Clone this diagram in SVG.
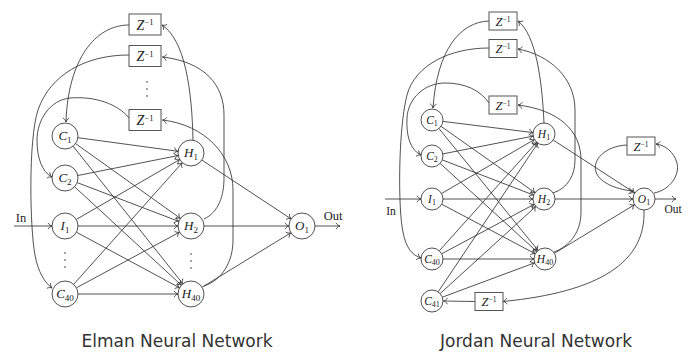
<svg xmlns="http://www.w3.org/2000/svg" width="691" height="353" viewBox="0 0 691 353">
<style>
.ln{fill:none;stroke:#333;stroke-width:0.85}
.ar{marker-end:url(#a)}
.nd{fill:#fff;stroke:#333;stroke-width:0.85}
.bx{fill:#fff;stroke:#555;stroke-width:1}
.lb{font-family:"Liberation Serif",serif;fill:#222;text-anchor:middle}
.e{font-size:13px}
.j{font-size:11.5px}
.it{font-style:italic}
.ttl{font-family:"DejaVu Sans",sans-serif;font-size:17px;fill:#333;text-anchor:middle}
.dot{fill:#333}
</style>
<defs>
<marker id="a" viewBox="-6 -5 7 10" markerWidth="7" markerHeight="10" refX="0" refY="0" orient="auto" markerUnits="userSpaceOnUse">
<path d="M-4,-3.2 C-3,-1.2 -1.2,-0.3 0,0 C-1.2,0.3 -3,1.2 -4,3.2" fill="none" stroke="#333" stroke-width="0.8"/>
</marker>
</defs>
<rect width="691" height="353" fill="#fff"/>

<g id="connectors">
<!-- Elman -->
<path class="ln ar" d="M14,226 L52,226"/>
<path class="ln ar" d="M77.9,137.7 L178.1,151.3"/>
<path class="ln ar" d="M75.6,143.6 L180.4,218.4"/>
<path class="ln ar" d="M73.1,146.2 L182.9,283.8"/>
<path class="ln ar" d="M77.8,175.5 L178.2,155.5"/>
<path class="ln ar" d="M77.2,182.6 L178.8,221.4"/>
<path class="ln ar" d="M74.6,186.8 L181.4,285.2"/>
<path class="ln ar" d="M76.2,219.5 L179.8,159.5"/>
<path class="ln ar" d="M78,226 L178,226"/>
<path class="ln ar" d="M76.4,232.2 L179.6,287.8"/>
<path class="ln ar" d="M73.7,284.3 L182.3,162.7"/>
<path class="ln ar" d="M76.4,287.8 L179.6,232.2"/>
<path class="ln ar" d="M78,294 L178,294"/>
<path class="ln ar" d="M201.9,160.1 L291.1,218.9"/>
<path class="ln ar" d="M204,226 L289,226"/>
<path class="ln ar" d="M202.1,287.2 L290.9,232.8"/>
<path class="ln ar" d="M315,226 L340,226"/>
<path class="ln ar" d="M193,140 C192,90 185,40 162,25"/>
<path class="ln ar" d="M129,25 C95,25 68,60 66,122"/>
<path class="ln ar" d="M204,219 C219,212 224,195 224,178 L224,115 C224,85 205,62 162.5,57"/>
<path class="ln ar" d="M204,286 C222,280 233,262 233,240 L233,190 C233,155 205,125 162.5,120"/>
<path class="ln ar" d="M129,55 C85,55 50,75 38,110 C28,140 30,230 35,255 C38,272 45,283 52,288"/>
<path class="ln ar" d="M129,118 C118,104 95,96 70,98 C50,100 37,120 37,140 C37,158 42,172 52,177"/>
<!-- Jordan -->
<path class="ln ar" d="M385,199 L421,199"/>
<path class="ln ar" d="M442.9,121.4 L533.1,132.6"/>
<path class="ln ar" d="M441,126.3 L535,192.7"/>
<path class="ln ar" d="M438.9,128.5 L538.1,250.5"/>
<path class="ln ar" d="M442.8,153.9 L533.2,136.1"/>
<path class="ln ar" d="M442.3,159.9 L533.7,195.1"/>
<path class="ln ar" d="M440.1,163.4 L536.9,251.6"/>
<path class="ln ar" d="M441.5,193.5 L534.5,139.5"/>
<path class="ln ar" d="M443,199 L533,199"/>
<path class="ln ar" d="M441.7,204.2 L535.3,253.8"/>
<path class="ln ar" d="M439.3,250.8 L536.7,142.2"/>
<path class="ln ar" d="M441.7,253.8 L534.3,204.2"/>
<path class="ln ar" d="M443,259 L534,259"/>
<path class="ln ar" d="M438.1,291.9 L537.9,143.1"/>
<path class="ln ar" d="M440.1,293.6 L535.9,206.4"/>
<path class="ln ar" d="M442.3,297.2 L534.7,262.8"/>
<path class="ln ar" d="M553.2,140 L634.8,193"/>
<path class="ln ar" d="M555,199 L633,199"/>
<path class="ln ar" d="M554.4,253.3 L634.6,204.7"/>
<path class="ln ar" d="M655,199 L676,199"/>
<path class="ln ar" d="M544,123 C542,80 536,35 518,21"/>
<path class="ln ar" d="M489,21 C460,22 437,50 433,108"/>
<path class="ln ar" d="M553,193 C568,188 575,175 575,160 L575,110 C575,78 550,55 518,49"/>
<path class="ln ar" d="M554,252 C570,246 581,232 581,212 L581,160 C581,130 558,110 518,105"/>
<path class="ln ar" d="M489,48 C450,48 415,65 407,95 C398,130 398,210 403,232 C406,248 412,255 421,258"/>
<path class="ln ar" d="M489,103 C480,90 465,83 445,83 C425,83 408,98 407,118 C406,135 410,150 421,155"/>
<path class="ln ar" d="M627,145 C605,146 592,160 596,172 C600,184 620,190 633,191"/>
<path class="ln ar" d="M654,193 C670,190 680,175 677,163 C674,152 665,145 656,144"/>
<path class="ln ar" d="M644,210 C646,262 600,292 503,301.5"/>
<path class="ln ar" d="M475,301.5 L443.5,301"/>
</g>

<g id="elman">
<g id="e-z1"><rect class="bx" x="129" y="14" width="32" height="21"/><text class="lb" font-size="14" x="145" y="29.5"><tspan class="it">Z</tspan><tspan dy="-4.5" font-size="8.5">−1</tspan></text></g>
<g id="e-z2"><rect class="bx" x="129" y="45.5" width="32" height="21"/><text class="lb" font-size="14" x="145" y="61"><tspan class="it">Z</tspan><tspan dy="-4.5" font-size="8.5">−1</tspan></text></g>
<g id="e-zdots"><circle class="dot" cx="147" cy="82" r="0.8"/><circle class="dot" cx="147" cy="89" r="0.8"/><circle class="dot" cx="147" cy="96" r="0.8"/></g>
<g id="e-z3"><rect class="bx" x="129" y="109.5" width="32" height="21"/><text class="lb" font-size="14" x="145" y="125"><tspan class="it">Z</tspan><tspan dy="-4.5" font-size="8.5">−1</tspan></text></g>
<g id="e-c1"><circle class="nd" cx="65" cy="136" r="13"/><text class="lb e" x="65" y="140"><tspan class="it">C</tspan><tspan dy="2.5" font-size="9">1</tspan></text></g>
<g id="e-c2"><circle class="nd" cx="65" cy="178" r="13"/><text class="lb e" x="65" y="182"><tspan class="it">C</tspan><tspan dy="2.5" font-size="9">2</tspan></text></g>
<g id="e-i1"><circle class="nd" cx="65" cy="226" r="13"/><text class="lb e" x="65" y="230"><tspan class="it">I</tspan><tspan dy="2.5" font-size="9">1</tspan></text></g>
<g id="e-cdots"><circle class="dot" cx="65" cy="253" r="0.8"/><circle class="dot" cx="65" cy="260" r="0.8"/><circle class="dot" cx="65" cy="267" r="0.8"/></g>
<g id="e-c40"><circle class="nd" cx="65" cy="294" r="13"/><text class="lb e" x="65" y="298"><tspan class="it">C</tspan><tspan dy="2.5" font-size="9">40</tspan></text></g>
<g id="e-h1"><circle class="nd" cx="191" cy="153" r="13"/><text class="lb e" x="191" y="157"><tspan class="it">H</tspan><tspan dy="2.5" font-size="9">1</tspan></text></g>
<g id="e-h2"><circle class="nd" cx="191" cy="226" r="13"/><text class="lb e" x="191" y="230"><tspan class="it">H</tspan><tspan dy="2.5" font-size="9">2</tspan></text></g>
<g id="e-hdots"><circle class="dot" cx="191" cy="254" r="0.8"/><circle class="dot" cx="191" cy="261" r="0.8"/><circle class="dot" cx="191" cy="268" r="0.8"/></g>
<g id="e-h40"><circle class="nd" cx="191" cy="294" r="13"/><text class="lb e" x="191" y="298"><tspan class="it">H</tspan><tspan dy="2.5" font-size="9">40</tspan></text></g>
<g id="e-o1"><circle class="nd" cx="302" cy="226" r="13"/><text class="lb e" x="302" y="230"><tspan class="it">O</tspan><tspan dy="2.5" font-size="9">1</tspan></text></g>
<text class="lb" x="21" y="222" font-size="12.5">In</text>
<text class="lb" x="333" y="220" font-size="12.5">Out</text>
<text class="ttl" x="177" y="347">Elman Neural Network</text>
</g>

<g id="jordan">
<g id="j-z1"><rect class="bx" x="489" y="12" width="28" height="18"/><text class="lb" font-size="12.5" x="503" y="25.5"><tspan class="it">Z</tspan><tspan dy="-4" font-size="7.5">−1</tspan></text></g>
<g id="j-z2"><rect class="bx" x="489" y="39.5" width="28" height="18"/><text class="lb" font-size="12.5" x="503" y="53"><tspan class="it">Z</tspan><tspan dy="-4" font-size="7.5">−1</tspan></text></g>
<g id="j-z3"><rect class="bx" x="489" y="96" width="28" height="18"/><text class="lb" font-size="12.5" x="503" y="109.5"><tspan class="it">Z</tspan><tspan dy="-4" font-size="7.5">−1</tspan></text></g>
<g id="j-z4"><rect class="bx" x="627" y="137" width="28" height="18"/><text class="lb" font-size="12.5" x="641" y="150.5"><tspan class="it">Z</tspan><tspan dy="-4" font-size="7.5">−1</tspan></text></g>
<g id="j-z5"><rect class="bx" x="475" y="292.5" width="28" height="18"/><text class="lb" font-size="12.5" x="489" y="306"><tspan class="it">Z</tspan><tspan dy="-4" font-size="7.5">−1</tspan></text></g>
<g id="j-c1"><circle class="nd" cx="432" cy="120" r="11"/><text class="lb j" x="432" y="123.5"><tspan class="it">C</tspan><tspan dy="2.2" font-size="8">1</tspan></text></g>
<g id="j-c2"><circle class="nd" cx="432" cy="156" r="11"/><text class="lb j" x="432" y="159.5"><tspan class="it">C</tspan><tspan dy="2.2" font-size="8">2</tspan></text></g>
<g id="j-i1"><circle class="nd" cx="432" cy="199" r="11"/><text class="lb j" x="432" y="202.5"><tspan class="it">I</tspan><tspan dy="2.2" font-size="8">1</tspan></text></g>
<g id="j-c40"><circle class="nd" cx="432" cy="259" r="11"/><text class="lb j" x="432" y="262.5"><tspan class="it">C</tspan><tspan dy="2.2" font-size="8">40</tspan></text></g>
<g id="j-c41"><circle class="nd" cx="432" cy="301" r="11"/><text class="lb j" x="432" y="304.5"><tspan class="it">C</tspan><tspan dy="2.2" font-size="8">41</tspan></text></g>
<g id="j-h1"><circle class="nd" cx="544" cy="134" r="11"/><text class="lb j" x="544" y="137.5"><tspan class="it">H</tspan><tspan dy="2.2" font-size="8">1</tspan></text></g>
<g id="j-h2"><circle class="nd" cx="544" cy="199" r="11"/><text class="lb j" x="544" y="202.5"><tspan class="it">H</tspan><tspan dy="2.2" font-size="8">2</tspan></text></g>
<g id="j-h40"><circle class="nd" cx="545" cy="259" r="11"/><text class="lb j" x="545" y="262.5"><tspan class="it">H</tspan><tspan dy="2.2" font-size="8">40</tspan></text></g>
<g id="j-o1"><circle class="nd" cx="644" cy="199" r="11"/><text class="lb j" x="644" y="202.5"><tspan class="it">O</tspan><tspan dy="2.2" font-size="8">1</tspan></text></g>
<text class="lb" x="391" y="215" font-size="11.5">In</text>
<text class="lb" x="673" y="213" font-size="11.5">Out</text>
<text class="ttl" x="536" y="347">Jordan Neural Network</text>
</g>
</svg>
